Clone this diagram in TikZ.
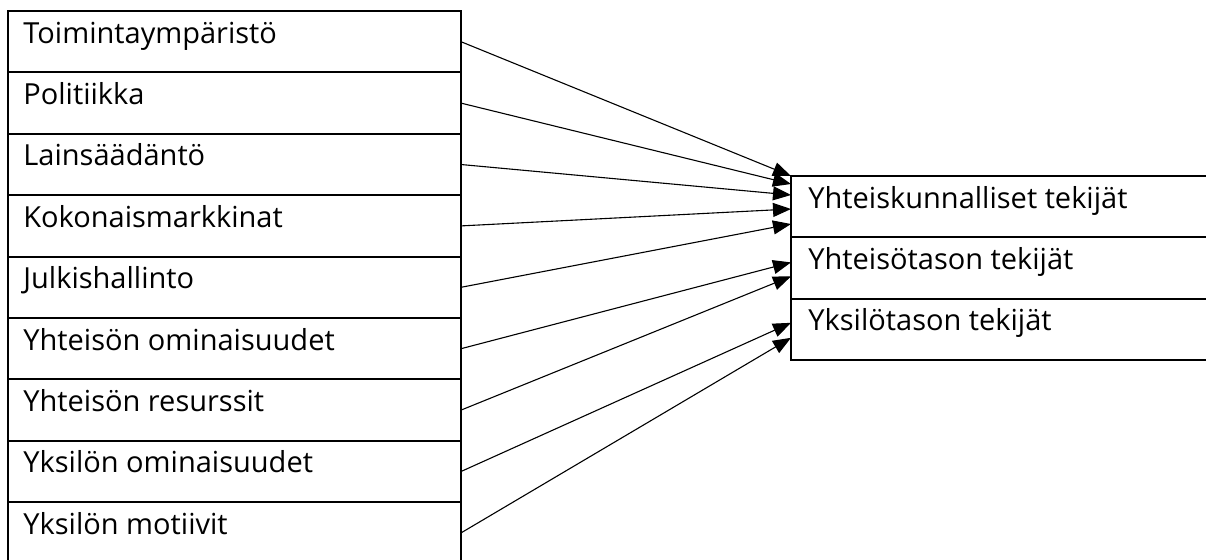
\documentclass[tikz,border=0pt]{standalone}
\usepackage{fontspec}
\setmainfont{Open Sans}
\usetikzlibrary{arrows.meta,calc}
\begin{document}
\begin{tikzpicture}[x=0.5pt,y=-0.5pt,
  cell/.style={draw, line width=0.95pt, rectangle, minimum width=#1,
    minimum height=30.7pt, inner sep=0pt, outer sep=0pt, anchor=north west},
  lcell/.style={cell=226.5pt},
  rcell/.style={cell=215pt},
  celltext/.style={anchor=base west, inner sep=0pt,
    font=\fontsize{14.5pt}{17pt}\selectfont},
  link/.style={-{Triangle[length=9pt,width=7pt]}, line width=0.55pt}]
\useasboundingbox (0,0) rectangle (1206,559);
\clip (0,0) rectangle (1206,559);

% left column of factors
\foreach \i/\t in {1/Toimintaympäristö, 2/Politiikka, 3/Lainsäädäntö,
    4/Kokonaismarkkinat, 5/Julkishallinto, 6/Yhteisön ominaisuudet,
    7/Yhteisön resurssit, 8/Yksilön ominaisuudet, 9/Yksilön motiivit} {
  \node[lcell] (l\i) at (8,{11+(\i-1)*61.4}) {};
  \node[celltext] (t\i) at ($(l\i.north west)+(15,32)$) {\t};
}

% right column of levels
\foreach \i/\t in {1/Yhteiskunnalliset tekijät, 2/Yhteisötason tekijät,
    3/Yksilötason tekijät} {
  \node[rcell] (r\i) at (791,{176+(\i-1)*61.4}) {};
  \node[celltext] (s\i) at ($(r\i.north west)+(17,32)$) {\t};
}

% connectors
\draw[link] (l1.east) -- (r1.north west);
\draw[link] (l2.east) -- ($(r1.north west)+(0,8)$);
\draw[link] (l3.east) -- ($(r1.north west)+(0,19)$);
\draw[link] (l4.east) -- ($(r1.north west)+(0,33)$);
\draw[link] (l5.east) -- ($(r1.north west)+(0,48)$);
\draw[link] (l6.east) -- ($(r2.north west)+(0,25)$);
\draw[link] (l7.east) -- ($(r2.north west)+(0,39)$);
\draw[link] (l8.east) -- ($(r3.north west)+(0,24)$);
\draw[link] (l9.east) -- ($(r3.north west)+(0,39)$);
\end{tikzpicture}
\end{document}
